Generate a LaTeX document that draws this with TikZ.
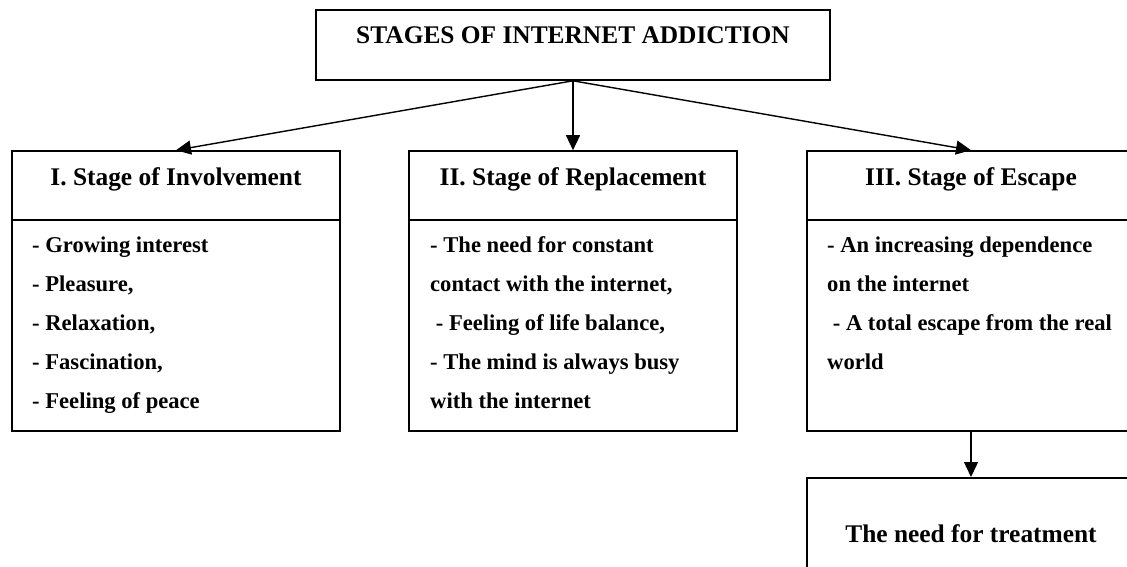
\documentclass[tikz,border=0pt]{standalone}
\usepackage{fontspec}
\setmainfont{Liberation Serif}
\usetikzlibrary{arrows.meta, positioning}

\begin{document}
\begin{tikzpicture}[
    x=1pt, y=-1pt,
    box/.style={rectangle, draw, line width=1.6pt, inner sep=0pt,
      font=\fontsize{25.4}{30}\selectfont\bfseries},
    hdr/.style={box, minimum width=328pt, text height=34pt, text depth=35pt},
    body/.style={rectangle, draw, line width=1.6pt, outer sep=0pt,
      minimum width=328pt, minimum height=211pt},
    entry/.style={inner sep=0pt, anchor=base west,
      font=\fontsize{22.6}{27}\selectfont\bfseries},
    arrow/.style={line width=1.4pt, -{Triangle[length=15pt, width=14pt]}}
]
\useasboundingbox (0,0) rectangle (1127,567);
\clip (0,0) rectangle (1127,567);

\node[box, minimum width=514pt, text height=34pt, text depth=36pt] (title) at (573,45)
  {STAGES OF INTERNET ADDICTION};

\node[hdr] (h1) at (176,185.5) {I. Stage of Involvement};
\node[hdr] (h2) at (573,185.5) {II. Stage of Replacement};
\node[hdr] (h3) at (971,185.5) {III. Stage of Escape};

\node[body, below=-0.8pt of h1] (b1) {};
\node[body, below=-0.8pt of h2] (b2) {};
\node[body, below=-0.8pt of h3] (b3) {};

% stage lists
\foreach \t [count=\i] in {{- Growing interest}, {- Pleasure,}, {- Relaxation,},
    {- Fascination,}, {- Feeling of peace}}
  \node[entry] (b1-\i) at ([xshift=20pt, yshift={-32-39.2*(\i-1)}]b1.north west) {\t};
\foreach \t [count=\i] in {{- The need for constant}, {contact with the internet,},
    {\ - Feeling of life balance,}, {- The mind is always busy}, {with the internet}}
  \node[entry] (b2-\i) at ([xshift=21pt, yshift={-32-39.2*(\i-1)}]b2.north west) {\t};
\foreach \t [count=\i] in {{- An increasing dependence}, {on the internet},
    {\ - A total escape from the real}, {world}}
  \node[entry] (b3-\i) at ([xshift=20pt, yshift={-32-39.2*(\i-1)}]b3.north west) {\t};

\node[box, minimum width=328pt, text height=65pt, text depth=60pt,
  below=46pt of b3] (treat) {The need for treatment};

\draw[arrow] (title.south) -- (h1.north);
\draw[arrow] (title.south) -- (h2.north);
\draw[arrow] (title.south) -- (h3.north);
\draw[arrow] (b3.south) -- (treat.north);
\end{tikzpicture}
\end{document}
